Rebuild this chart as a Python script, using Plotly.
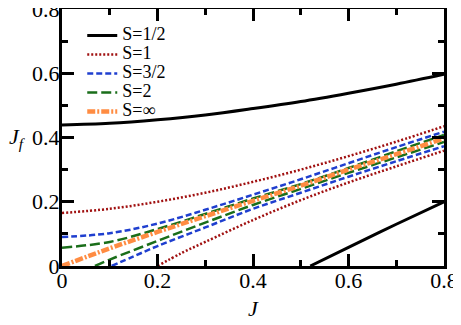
import plotly.graph_objects as go

# J grid for the upper branches
j_grid = [0.0, 0.1, 0.2, 0.3, 0.4, 0.5, 0.6, 0.7, 0.8]

half_upper = [0.439, 0.444, 0.455, 0.470, 0.490, 0.512, 0.538, 0.566, 0.597]
half_lower_j = [0.52, 0.6, 0.7, 0.8]
half_lower = [0.0, 0.058, 0.130, 0.200]

one_upper = [0.165, 0.178, 0.200, 0.228, 0.262, 0.300, 0.342, 0.387, 0.435]
one_lower_j = [0.2, 0.25, 0.3, 0.4, 0.5, 0.6, 0.7, 0.8]
one_lower = [0.0, 0.040, 0.075, 0.143, 0.205, 0.260, 0.310, 0.359]

three_half_upper = [0.090, 0.102, 0.132, 0.175, 0.222, 0.270, 0.320, 0.370, 0.418]
three_half_lower_j = [0.104, 0.15, 0.2, 0.3, 0.4, 0.5, 0.6, 0.7, 0.8]
three_half_lower = [0.0, 0.030, 0.062, 0.120, 0.178, 0.228, 0.278, 0.326, 0.373]

two_upper = [0.057, 0.075, 0.115, 0.162, 0.210, 0.255, 0.305, 0.357, 0.408]
two_lower_j = [0.069, 0.1, 0.2, 0.3, 0.4, 0.5, 0.6, 0.7, 0.8]
two_lower = [0.0, 0.020, 0.078, 0.135, 0.190, 0.240, 0.290, 0.338, 0.386]

inf_line = [0.0, 0.055, 0.106, 0.155, 0.203, 0.250, 0.300, 0.348, 0.397]

SERIF = "Liberation Serif"


def lbl(s):
    return f"<span style='font-size:18px'>{s}</span>"


fig = go.Figure()

series = [
    ("S=1/2", "black", 3, "solid", j_grid, half_upper, half_lower_j, half_lower),
    ("S=1", "#a01010", 2.5, "2px,2px", j_grid, one_upper, one_lower_j, one_lower),
    ("S=3/2", "#1f3fcf", 2.5, "6px,3px", j_grid, three_half_upper, three_half_lower_j, three_half_lower),
    ("S=2", "#1a6e1a", 2.5, "10px,4px", j_grid, two_upper, two_lower_j, two_lower),
]

for name, color, width, dash, xu, yu, xl, yl in series:
    fig.add_trace(go.Scatter(x=xu, y=yu, mode="lines", name=lbl(name), legendgroup=name,
                             line=dict(color=color, width=width, dash=dash, shape="spline")))
    fig.add_trace(go.Scatter(x=xl, y=yl, mode="lines", name=name, legendgroup=name, showlegend=False,
                             line=dict(color=color, width=width, dash=dash, shape="spline")))

fig.add_trace(go.Scatter(x=j_grid, y=inf_line, mode="lines", name=lbl("S=∞"),
                         line=dict(color="#ff8c42", width=4.5, dash="8px,2px,2px,2px", shape="spline")))

axis_common = dict(
    range=[0, 0.8], showline=True, linecolor="black", linewidth=3, mirror="allticks",
    ticks="inside", ticklen=12, tickwidth=3, tickcolor="black", dtick=0.2,
    showgrid=False, zeroline=False, automargin=False, ticklabeloverflow="allow",
    minor=dict(dtick=0.1, ticks="inside", ticklen=6, tickwidth=3, tickcolor="black", showgrid=False),
    tickfont=dict(family=SERIF, size=22, color="black"),
    tickformat="~g",
)
fig.update_xaxes(ticklabelstandoff=-7, **axis_common)
fig.update_yaxes(ticklabelstandoff=-5, **axis_common)

fig.add_annotation(text="<i>J</i>", x=0.5, xref="paper", y=-0.165, yref="paper",
                   yanchor="middle", showarrow=False, font=dict(family=SERIF, size=22, color="black"))
fig.add_annotation(text="<i>J<sub>f</sub></i>", x=-0.145, xref="paper", y=0.4, yref="y",
                   yanchor="middle", showarrow=False, font=dict(family=SERIF, size=22, color="black"))

# page body adds an 8px offset, so the figure is a bit smaller than the window
fig.update_layout(
    width=453, height=317,
    margin=dict(l=54, r=17, t=1, b=59),
    paper_bgcolor="white", plot_bgcolor="white",
    showlegend=True,
    legend=dict(x=0.053, y=0.953, xanchor="left", yanchor="top", bgcolor="rgba(0,0,0,0)",
                font=dict(family=SERIF, size=12, color="black"), itemwidth=30, tracegroupgap=0),
)

fig.write_html("out.html")
